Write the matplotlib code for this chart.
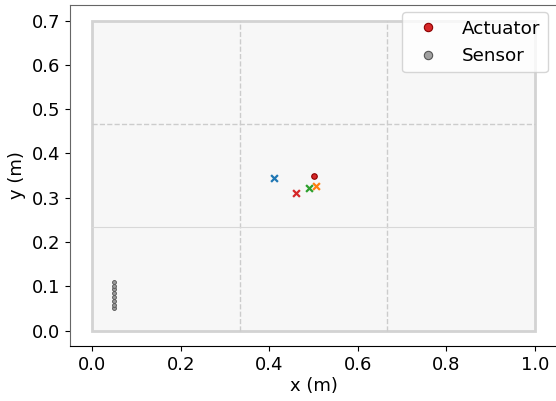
import matplotlib
matplotlib.use("Agg")
import matplotlib.pyplot as plt
import matplotlib.patches as mpatches
from matplotlib.lines import Line2D

plate_w = 1.0
plate_h = 0.7
grid_x = [1/3, 2/3]
grid_y_dashed = [2*0.7/3]
grid_y_solid = [0.7/3]

actuator_x = [0.5]
actuator_y = [0.35]

sensor_x = [0.05]*8
sensor_y = [0.05, 0.0586, 0.0671, 0.0757, 0.0843, 0.0929, 0.1014, 0.11]

cross_x = [0.41, 0.505, 0.49, 0.46]
cross_y = [0.345, 0.327, 0.321, 0.311]
cross_colors = ['#1f77b4', '#ff7f0e', '#2ca02c', '#d62728']

fig = plt.figure(figsize=(5.56, 4.01), dpi=100)
ax = fig.add_axes([0.1259, 0.137, 0.876, 0.8505])

ax.add_patch(mpatches.Rectangle((0, 0), plate_w, plate_h, facecolor='#f7f7f7',
                                edgecolor='#d3d3d3', lw=2, zorder=1))
for gx in grid_x:
    ax.plot([gx, gx], [0, plate_h], color='#cccccc', ls='--', lw=1, zorder=1.5)
for gy in grid_y_dashed:
    ax.plot([0, plate_w], [gy, gy], color='#cccccc', ls='--', lw=1, zorder=1.5)
for gy in grid_y_solid:
    ax.plot([0, plate_w], [gy, gy], color='#d8d8d8', ls='-', lw=0.8, zorder=1.5)

ax.scatter(actuator_x, actuator_y, s=16, c='#d62728', edgecolors='#8b0000',
           linewidths=0.8, zorder=4)
ax.scatter(sensor_x, sensor_y, s=8, c='#999999', edgecolors='#555555',
           linewidths=0.6, zorder=4)
for x, y, c in zip(cross_x, cross_y, cross_colors):
    ax.scatter([x], [y], marker='x', s=24, c=c, linewidths=1.6, zorder=5)

ax.set_xlim(-0.05, 1.05)
ax.set_ylim(-0.035, 0.735)
ax.set_aspect('equal')
ax.set_xticks([0.0, 0.2, 0.4, 0.6, 0.8, 1.0])
ax.set_yticks([0.0, 0.1, 0.2, 0.3, 0.4, 0.5, 0.6, 0.7])
ax.tick_params(labelsize=13)
ax.set_xlabel('x (m)', fontsize=13, labelpad=2)
ax.set_ylabel('y (m)', fontsize=13, labelpad=4)
for s in ['left', 'top', 'right']:
    ax.spines[s].set_color('#666666')
ax.spines['bottom'].set_color('black')

handles = [
    Line2D([], [], ls='none', marker='o', ms=6, mfc='#d62728', mec='#8b0000', mew=0.8),
    Line2D([], [], ls='none', marker='o', ms=6, mfc='#a0a0a0', mec='#555555', mew=0.8),
]
leg = ax.legend(handles, ['Actuator', 'Sensor'], loc='upper right', fontsize=13.2,
                bbox_to_anchor=(0.988, 0.989), framealpha=0.8, handletextpad=0.85,
                borderaxespad=0.2)

fig.savefig('out.png', dpi=100)
